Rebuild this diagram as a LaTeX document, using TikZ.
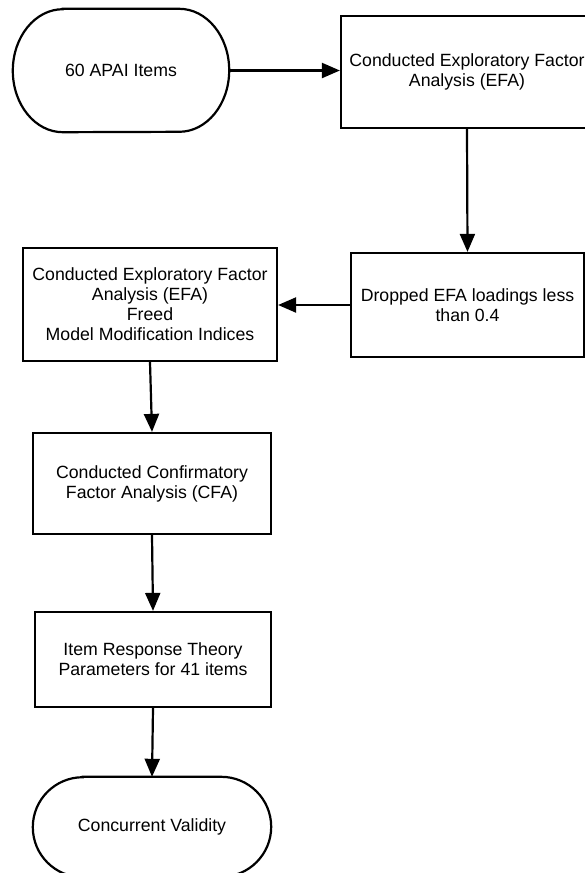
\documentclass[tikz,border=0pt]{standalone}
\usepackage{fontspec}
\setmainfont{Liberation Sans}
\usetikzlibrary{arrows.meta}
\begin{document}
\begin{tikzpicture}[x=1pt,y=1pt,
  stepbox/.style={draw=black, line width=2.2pt, align=center, inner sep=0pt,
    font=\fontsize{17.7}{20}\selectfont},
  termtext/.style={align=center, inner sep=0pt, font=\fontsize{17.7}{20}\selectfont},
  termline/.style={draw=black, line width=2.2pt},
  flow/.style={line width=2.2pt, -{Triangle[length=18pt,width=15pt]}}]
\useasboundingbox (0,0) rectangle (585,-873);
\clip (0,0) rectangle (585,-873);

% terminal 1
\node[termtext, minimum width=216pt, minimum height=123pt] (t1) at (121,-70.5) {60 APAI Items};
\draw[termline] ([xshift=50pt]t1.north west) -- ([xshift=-50pt]t1.north east)
  arc[start angle=90, end angle=-90, x radius=50pt, y radius=61.5pt]
  -- ([xshift=50pt]t1.south west)
  arc[start angle=270, end angle=90, x radius=50pt, y radius=61.5pt] -- cycle;

% boxes
\node[stepbox, minimum width=252pt, minimum height=112pt] (b1) at (467,-72)
  {Conducted Exploratory Factor\\Analysis (EFA)};
\node[stepbox, minimum width=233pt, minimum height=104pt] (b2) at (467.5,-305)
  {Dropped EFA loadings less\\than 0.4};
\node[stepbox, minimum width=254pt, minimum height=113pt] (b3) at (150,-304.5)
  {Conducted Exploratory Factor\\Analysis (EFA)\\Freed\\Model Modification Indices};
\node[stepbox, minimum width=238pt, minimum height=101pt] (b4) at (152,-483.5)
  {Conducted Confirmatory\\Factor Analysis (CFA)};
\node[stepbox, minimum width=236pt, minimum height=95pt] (b5) at (153,-659.5)
  {Item Response Theory\\Parameters for 41 items};

% terminal 2
\node[termtext, minimum width=238pt, minimum height=100pt] (t2) at (152,-827) {Concurrent Validity};
\draw[termline] ([xshift=50pt]t2.north west) -- ([xshift=-50pt]t2.north east)
  arc[start angle=90, end angle=-90, x radius=50pt, y radius=50pt]
  -- ([xshift=50pt]t2.south west)
  arc[start angle=270, end angle=90, x radius=50pt, y radius=50pt] -- cycle;

% connectors
\draw[flow] (t1.east) -- (t1.east -| b1.west);
\draw[flow] (b1.south) -- (b2.north);
\draw[flow] (b2.west) -- (b2.west -| b3.east);
\draw[flow] (b3.south) -- (b4.north);
\draw[flow] (b4.south) -- (b5.north);
\draw[flow] (b5.south) -- (t2.north);
\end{tikzpicture}
\end{document}
